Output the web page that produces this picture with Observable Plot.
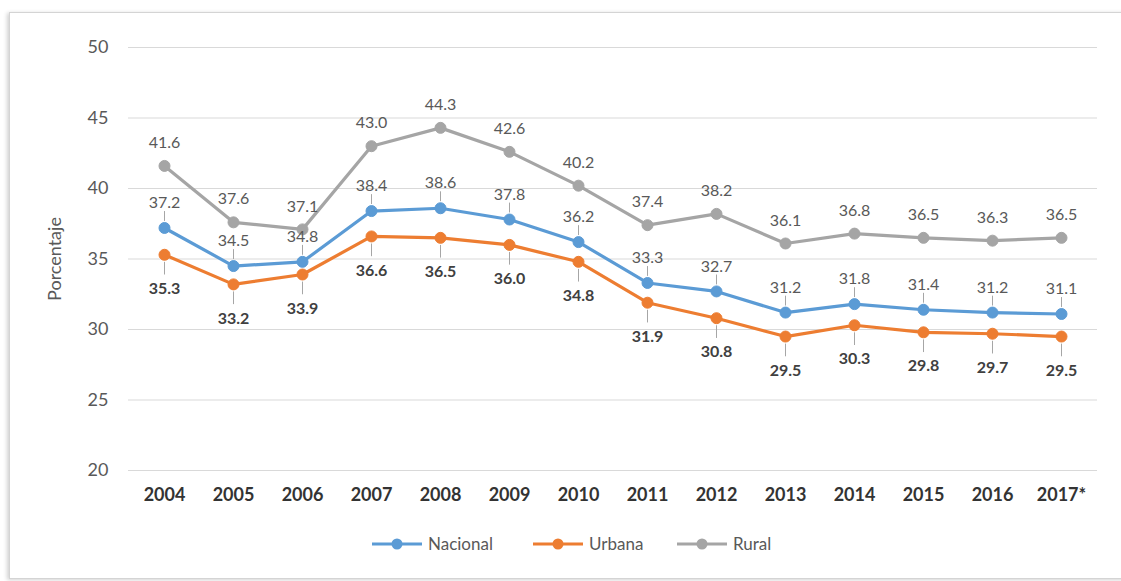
<!DOCTYPE html>
<html>
<head>
<meta charset="utf-8">
<script src="https://cdn.jsdelivr.net/npm/d3@7"></script>
<script src="https://cdn.jsdelivr.net/npm/@observablehq/plot@0.6"></script>
<style>
  html, body { margin: 0; padding: 0; background: #ffffff; overflow: hidden; }
  body { width: 1121px; height: 581px; position: relative; font-family: Lato, "Liberation Sans", sans-serif; }
  #chart { position: absolute; left: 0; top: 0; }
  #frame { position: absolute; left: 9px; top: 12px; width: 1300px; height: 565px;
           border: 1px solid #d4d4d4; border-right: none; box-shadow: -2px 1px 4px rgba(0,0,0,0.18); z-index: 2; pointer-events: none; }
  #legend { position: absolute; left: 0; top: 533px; width: 1121px; height: 20px; }
  .item { position: absolute; top: 0; display: flex; align-items: center; font-size: 17px; color: #595959; }
  .item svg { margin-right: 6px; }
</style>
</head>
<body>
<div id="chart"></div>
<div id="legend"></div>
<div id="frame"></div>
<script>
const years = ["2004","2005","2006","2007","2008","2009","2010","2011","2012","2013","2014","2015","2016","2017*"];
const nacional = [37.2,34.5,34.8,38.4,38.6,37.8,36.2,33.3,32.7,31.2,31.8,31.4,31.2,31.1];
const urbana   = [35.3,33.2,33.9,36.6,36.5,36.0,34.8,31.9,30.8,29.5,30.3,29.8,29.7,29.5];
const rural    = [41.6,37.6,37.1,43.0,44.3,42.6,40.2,37.4,38.2,36.1,36.8,36.5,36.3,36.5];
const seriesNames = ["Nacional","Urbana","Rural"];
const yTicks = [20,25,30,35,40,45,50];

const colors = {Nacional: "#5B9BD5", Urbana: "#ED7D31", Rural: "#A5A5A5"};
const seriesValues = {Nacional: nacional, Urbana: urbana, Rural: rural};

const rows = [];
for (const s of seriesNames) {
  years.forEach((yr, i) => rows.push({series: s, year: yr, value: seriesValues[s][i]}));
}
const rowsOf = s => rows.filter(d => d.series === s);

const labelStyle = {
  Rural:    {dy: -23, fontWeight: "normal", fill: "#595959"},
  Nacional: {dy: -25, fontWeight: "normal", fill: "#595959"},
  Urbana:   {dy: 34,  fontWeight: "bold",   fill: "#404040"}
};

const marks = [
  Plot.ruleY(yTicks, {stroke: "#d9d9d9", strokeWidth: 1}),
  Plot.axisY({ticks: yTicks, tickSize: 0, tickPadding: 20, fontSize: 18, fill: "#595959",
              label: "Porcentaje", labelAnchor: "center", labelOffset: 80, labelArrow: "none"}),
  Plot.axisX({tickSize: 0, tickPadding: 18, fontSize: 18, fontWeight: "bold", fill: "#333333", label: null}),
  // leader lines
  Plot.link(rowsOf("Nacional"), {x1: "year", x2: "year", y1: d => d.value + 0.5, y2: d => d.value + 1.2, stroke: "#a6a6a6", strokeWidth: 1}),
  Plot.link(rowsOf("Urbana"), {x1: "year", x2: "year", y1: d => d.value - 0.5, y2: d => d.value - 1.4, stroke: "#a6a6a6", strokeWidth: 1})
];

for (const s of seriesNames) {
  marks.push(Plot.line(rowsOf(s), {x: "year", y: "value", stroke: colors[s], strokeWidth: 3.2}));
  marks.push(Plot.dot(rowsOf(s), {x: "year", y: "value", r: 5.5, fill: colors[s], stroke: colors[s], strokeWidth: 1}));
}
for (const s of seriesNames) {
  const st = labelStyle[s];
  marks.push(Plot.text(rowsOf(s), {x: "year", y: "value", text: d => d.value.toFixed(1),
    dy: st.dy, fontSize: 16, fontWeight: st.fontWeight, fill: st.fill}));
}

const chart = Plot.plot({
  width: 1121,
  height: 515,
  marginLeft: 128,
  marginRight: 24,
  marginTop: 47,
  marginBottom: 45,
  style: {background: "transparent", fontFamily: "Lato, 'Liberation Sans', sans-serif"},
  x: {type: "point", domain: years, padding: 0.5},
  y: {domain: [20, 50]},
  marks
});
document.getElementById("chart").appendChild(chart);

// legend
const legend = document.getElementById("legend");
const lefts = {Nacional: 372, Urbana: 533, Rural: 677};
for (const s of seriesNames) {
  const item = document.createElement("div");
  item.className = "item";
  item.style.left = lefts[s] + "px";
  item.innerHTML = `<svg width="50" height="14"><line x1="0" y1="7" x2="50" y2="7" stroke="${colors[s]}" stroke-width="3"/><circle cx="25" cy="7" r="5.5" fill="${colors[s]}"/></svg><span>${s}</span>`;
  legend.appendChild(item);
}
</script>
</body>
</html>
